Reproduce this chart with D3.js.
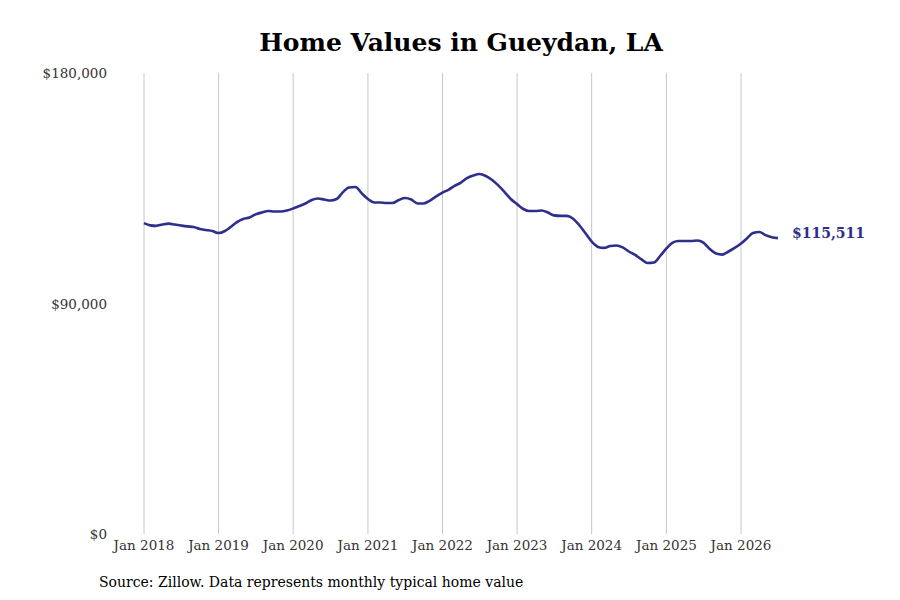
<!DOCTYPE html>
<html>
<head>
<meta charset="utf-8">
<script src="https://cdn.jsdelivr.net/npm/d3@7"></script>
<style>
  body { margin: 0; background: #fff; }
  svg text { font-family: "DejaVu Serif", serif; }
</style>
</head>
<body>
<main></main>
<script>
// Datos
const startMonth = "2018-01";
const values = [
  121400, 120500, 120300, 120850, 121200, 120850, 120450, 120100, 119900, 119100, 118700, 118300,
  117500, 118300, 119900, 121800, 123000, 123600, 124800, 125550, 126100, 125950, 125950, 126300,
  127100, 128100, 129050, 130400, 131000, 130600, 130200, 130800, 133500, 135300, 135500, 133100,
  130800, 129450, 129450, 129250, 129250, 130400, 131200, 130600, 129050, 129050, 130200, 131800,
  133300, 134500, 135900, 137200, 139000, 140000, 140550, 139800, 138200, 136100, 133500, 130800,
  128800, 126900, 126100, 126100, 126300, 125550, 124400, 124200, 124200, 123200, 120650, 117500,
  114200, 112100, 111700, 112450, 112650, 111900, 110300, 108950, 107200, 105800, 106000, 108550,
  111500, 113800, 114400, 114400, 114400, 114600, 113800, 111300, 109500, 109100, 110300, 111700,
  113400, 115600, 117500, 117900, 116700, 115900, 115511
];
const yTicks = [0, 90000, 180000];
const xTickYears = [2018, 2019, 2020, 2021, 2022, 2023, 2024, 2025, 2026];

const w = 900;
const h = 600;
const lineColor = "#2e2e8b";

const parseMonth = d3.timeParse("%Y-%m");
const start = parseMonth(startMonth);
const data = values.map((v, i) => ({ date: d3.timeMonth.offset(start, i), value: v }));

const svg = d3.select("main")
  .append("svg")
  .attr("width", w)
  .attr("height", h);

const x = d3.scaleTime()
  .domain([new Date(2018, 0, 1), new Date(2026, 0, 1)])
  .range([144, 741]);

const y = d3.scaleLinear()
  .domain([0, 180000])
  .range([534, 73]);

// Líneas verticales de la cuadrícula
svg.append("g")
  .selectAll("line")
  .data(xTickYears)
  .enter()
  .append("line")
  .attr("x1", d => x(new Date(d, 0, 1)))
  .attr("x2", d => x(new Date(d, 0, 1)))
  .attr("y1", y(180000))
  .attr("y2", y(0))
  .attr("stroke", "#c8c8c8")
  .attr("stroke-width", 1);

// Etiquetas del eje x
svg.append("g")
  .selectAll("text")
  .data(xTickYears)
  .enter()
  .append("text")
  .attr("x", d => x(new Date(d, 0, 1)))
  .attr("y", 550)
  .attr("text-anchor", "middle")
  .attr("font-size", "13.5px")
  .attr("fill", "#333")
  .text(d => "Jan " + d);

// Etiquetas del eje y
svg.append("g")
  .selectAll("text")
  .data(yTicks)
  .enter()
  .append("text")
  .attr("x", 107)
  .attr("y", d => y(d) + 5)
  .attr("text-anchor", "end")
  .attr("font-size", "13.5px")
  .attr("fill", "#333")
  .text(d => "$" + d3.format(",")(d));

// Línea
const line = d3.line()
  .x(d => x(d.date))
  .y(d => y(d.value))
  .curve(d3.curveMonotoneX);

svg.append("path")
  .datum(data)
  .attr("d", line)
  .attr("fill", "none")
  .attr("stroke", lineColor)
  .attr("stroke-width", 2.6)
  .attr("stroke-linejoin", "round");

// Etiqueta del último valor
const last = data[data.length - 1];
svg.append("text")
  .attr("x", x(last.date) + 14)
  .attr("y", y(last.value))
  .attr("font-size", "14px")
  .attr("font-weight", "bold")
  .attr("fill", lineColor)
  .text("$" + d3.format(",")(last.value));

// Título
svg.append("text")
  .attr("x", 461)
  .attr("y", 51)
  .attr("text-anchor", "middle")
  .attr("font-size", "25px")
  .attr("font-weight", "bold")
  .attr("fill", "#000")
  .text("Home Values in Gueydan, LA");

// Fuente
svg.append("text")
  .attr("x", 99)
  .attr("y", 587)
  .attr("font-size", "14px")
  .attr("fill", "#000")
  .text("Source: Zillow. Data represents monthly typical home value");
</script>
</body>
</html>
